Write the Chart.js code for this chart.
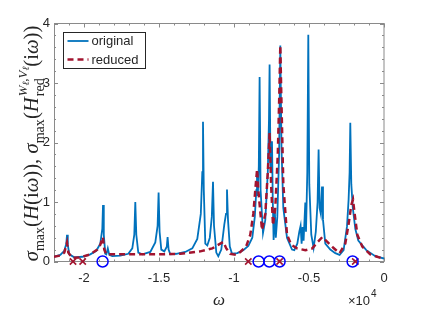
<!DOCTYPE html>
<html><head><meta charset="utf-8">
<script src="https://cdn.jsdelivr.net/npm/chart.js@4.4.0/dist/chart.umd.min.js"></script>
<style>html,body{margin:0;padding:0;background:#fff;} canvas{display:block;}</style>
</head><body>
<canvas id="c" width="424" height="318"></canvas>
<script>
// original transfer function sigma_max vs omega
const origW = [-22000,-21580,-21313,-21180,-21133,-21080,-20980,-20647,-20113,-19580,-19180,-18913,-18780,-18733,-18680,-18580,-18513,-18413,-18313,-18113,
 -17580,-17047,-16780,-16647,-16580,-16513,-16380,-16113,-15580,-15247,-15093,-15027,-14960,-14847,-14647,-14480,-14427,-14360,-14247,-13847,
 -13247,-12780,-12447,-12213,-12113,-12067,-12013,-11913,-11780,-11613,-11480,-11400,-11333,-11180,-11047,-10847,-10647,-10533,-10467,-10400,
 -10280,-10133,-9780,-9380,-9047,-8780,-8613,-8513,-8467,-8413,-8347,-8293,-8227,-8067,-7913,-7747,-7667,-7627,-7567,-7513,
 -7467,-7413,-7360,-7280,-7213,-7113,-6993,-6913,-6833,-6713,-6467,-6133,-5980,-5780,-5647,-5560,-5493,-5427,-5360,-5247,
 -5200,-5113,-5047,-4980,-4847,-4693,-4547,-4427,-4360,-4293,-4213,-4133,-4067,-3913,-3580,-3247,-2960,-2693,-2467,-2360,
 -2293,-2247,-2180,-2080,-1913,-1713,-1180,-580,0];
const origS = [0.08,0.11,0.18,0.30,0.45,0.28,0.12,0.07,0.08,0.12,0.18,0.30,0.55,0.95,0.45,0.13,0.12,0.22,0.11,0.09,
 0.10,0.13,0.22,0.45,1.00,0.45,0.15,0.12,0.16,0.32,0.60,1.16,0.50,0.20,0.17,0.25,0.41,0.20,0.12,0.13,
 0.16,0.22,0.38,0.80,1.50,2.35,1.20,0.30,0.27,0.40,0.75,1.34,0.60,0.15,0.09,0.20,0.62,0.80,1.21,0.70,
 0.25,0.13,0.14,0.19,0.26,0.40,0.75,1.20,1.43,1.10,1.60,3.10,1.20,0.48,0.70,1.50,2.40,3.31,1.60,1.50,
 2.02,1.00,0.36,0.87,0.40,0.75,1.80,3.63,1.90,0.90,0.40,0.20,0.19,0.30,0.50,0.60,0.30,0.58,0.35,0.99,
 0.50,1.50,3.81,1.30,0.45,0.23,0.50,1.00,1.88,0.90,0.80,1.26,0.70,0.30,0.20,0.14,0.11,0.19,0.59,1.04,
 1.50,2.33,1.30,0.90,0.55,0.35,0.19,0.09,0.05];
// reduced model
const redW = [-22000,-21580,-21313,-21133,-21047,-20780,-20247,-19580,-19113,-18913,-18747,-18647,-18513,-17580,-16247,-14913,-13580,-12247,-11447,-10913,
 -10713,-10513,-10247,-9847,-9580,-9180,-8913,-8713,-8547,-8460,-8380,-8133,-7913,-7747,-7627,-7527,-7400,-7247,-7080,-6980,
 -6913,-6847,-6713,-6467,-6180,-5800,-5247,-4780,-4447,-4113,-3780,-3380,-2960,-2580,-2347,-2180,-2067,-1980,-1780,-1447,
 -913,0];
const redS = [0.08,0.10,0.15,0.32,0.15,0.06,0.07,0.12,0.20,0.28,0.41,0.20,0.12,0.12,0.12,0.12,0.13,0.17,0.22,0.30,
 0.33,0.22,0.13,0.11,0.16,0.26,0.45,0.80,1.30,1.55,1.20,0.53,0.80,1.50,2.16,1.30,0.61,0.90,1.80,2.80,
 3.63,2.80,1.30,0.45,0.28,0.22,0.19,0.22,0.32,0.41,0.33,0.23,0.14,0.30,0.65,0.95,1.04,0.85,0.45,0.25,
 0.12,0.04];
// interpolation points
const crossW = [-20733,-20087,-9047,-6960,-1913];
const circleW = [-18760,-8360,-7647,-6960,-2093];
const xTicks = [-20000,-15000,-10000,-5000,0];
const xTickLabels = ['-2','-1.5','-1','-0.5','0'];
const yTicks = [0,1,2,3,4];
const yTickLabels = ['0','1','2','3','4'];

const BLUE = 'rgb(0,114,189)';
const RED = 'rgb(162,20,47)';
const AXC = '#8a8a8a';
const TXT = '#262626';

const pts = (xs, ys) => xs.map((x,i)=>({x:x, y:ys[i]}));

const axesPlugin = {
  id:'axesPlugin',
  beforeDatasetsDraw(chart){
    const {ctx, chartArea:a, scales:{x, y}} = chart;
    ctx.save();
    ctx.strokeStyle = AXC; ctx.lineWidth = 1;
    ctx.strokeRect(a.left+0.5, a.top, a.right-a.left-0.5, a.bottom-a.top);
    ctx.beginPath();
    for (let v = -22000; v <= 0; v += 1000) {
      const px = Math.round(x.getPixelForValue(v))+0.5;
      const L = (v % 5000 === 0) ? 4 : 2;
      ctx.moveTo(px, a.bottom); ctx.lineTo(px, a.bottom-L);
      ctx.moveTo(px, a.top); ctx.lineTo(px, a.top+L);
    }
    for (let k = 0; k <= 20; k++) {
      const v = k*0.2;
      const py = Math.round(y.getPixelForValue(v))+0.5;
      const L = (k % 5 === 0) ? 4 : 2;
      ctx.moveTo(a.left, py); ctx.lineTo(a.left+L, py);
      ctx.moveTo(a.right, py); ctx.lineTo(a.right-L, py);
    }
    ctx.stroke();
    ctx.restore();
  },
  afterDraw(chart){
    const {ctx, chartArea:a} = chart;
    ctx.save();
    // legend
    const lx = 63.5, ly = 32.5, lw = 82, lh = 36;
    ctx.fillStyle = '#fff'; ctx.fillRect(lx, ly, lw, lh);
    ctx.strokeStyle = TXT; ctx.lineWidth = 1; ctx.strokeRect(lx, ly, lw, lh);
    const ds = chart.data.datasets;
    const rows = [ds.find(d=>d.label==='original'), ds.find(d=>d.label==='reduced')];
    rows.forEach((d, i) => {
      const yy = ly + 8.5 + i*18.5;
      ctx.beginPath();
      ctx.strokeStyle = d.borderColor; ctx.lineWidth = d.borderWidth;
      ctx.setLineDash(d.borderDash || []);
      ctx.moveTo(lx+4, yy); ctx.lineTo(lx+25, yy); ctx.stroke();
      ctx.setLineDash([]);
      ctx.fillStyle = TXT; ctx.font = '13px "Liberation Sans", Arial, sans-serif';
      ctx.textBaseline = 'middle'; ctx.textAlign = 'left';
      ctx.fillText(d.label, lx+28, yy+0.5);
    });
    // x label
    ctx.textBaseline = 'alphabetic';
    ctx.font = 'italic 17px "Liberation Serif", serif';
    ctx.textAlign = 'center';
    ctx.fillText('ω', (a.left+a.right)/2, 305);
    // exponent
    ctx.textAlign = 'left';
    ctx.font = '13px "Liberation Sans", Arial, sans-serif';
    ctx.fillText('×10', 348, 305);
    const w10 = ctx.measureText('×10').width;
    ctx.font = '10px "Liberation Sans", Arial, sans-serif';
    ctx.fillText('4', 348 + w10 + 1, 297);
    // y label (math)
    drawYLabel(ctx, 38, (a.top + a.bottom)/2 + 1, 236);
    ctx.restore();
  }
};

function drawYLabel(ctx, bx, cy, targetLen){
  const F = (s, it) => `${it?'italic ':''}${s}px "Liberation Serif", "DejaVu Serif", serif`;
  const build = (B) => {
    const R = (t)=>({t, f:F(B,false), dy:0});
    const I = (t)=>({t, f:F(B,true), dy:0});
    const S = (t)=>({t, f:F(0.68*B,false), dy:0.28*B});
    const SupI = (t)=>({t, f:F(0.62*B,true), dy:-0.55*B});
    const SupS = (t)=>({t, f:F(0.45*B,true), dy:-0.43*B});
    const SupR = (t)=>({t, f:F(0.62*B,false), dy:-0.55*B});
    return [
      I('σ'), S('max'), R('('), I('H'), R('('), R('i'), I('ω'), R(')'), R(')'), R(', '),
      I('σ'), S('max'), R('('), I('H'),
      {stack:[[SupI('W'), SupS('ℓ'), SupR(','), SupI('V'), SupS('ℓ')], [S('red')]]},
      R('('), R('i'), I('ω'), R(')'), R(')')
    ];
  };
  const runW = (run) => run.reduce((s, p) => { ctx.font = p.f; return s + ctx.measureText(p.t).width; }, 0);
  const totalW = (items) => items.reduce((s, it) => s + (it.stack ? Math.max(...it.stack.map(runW)) + 1 : runW([it])), 0);
  let B = 18;
  let items = build(B);
  B = B * targetLen / totalW(items);
  items = build(B);
  const tw = totalW(items);
  ctx.save();
  ctx.translate(bx, cy);
  ctx.rotate(-Math.PI/2);
  ctx.fillStyle = TXT; ctx.textAlign = 'left'; ctx.textBaseline = 'alphabetic';
  let x = -tw/2;
  const drawRun = (run, x0) => { let xx = x0; run.forEach(p => { ctx.font = p.f; ctx.fillText(p.t, xx, p.dy); xx += ctx.measureText(p.t).width; }); return xx - x0; };
  items.forEach(it => {
    if (it.stack) {
      const ws = it.stack.map(r => drawRun(r, x + 1));
      x += Math.max(...ws) + 1;
    } else {
      x += drawRun([it], x);
    }
  });
  ctx.restore();
}

new Chart(document.getElementById('c'), {
  type: 'line',
  data: {
    datasets: [
      {label:'circles', data: circleW.map(w=>({x:w,y:0})), showLine:false, pointStyle:'circle', pointRadius:5.5,
       pointBorderWidth:1.5, borderColor:'#0000ff', pointBorderColor:'#0000ff', pointBackgroundColor:'rgba(0,0,0,0)', backgroundColor:'rgba(0,0,0,0)', clip:false, order:0},
      {label:'crosses', data: crossW.map(w=>({x:w,y:0})), showLine:false, pointStyle:'crossRot', pointRadius:4.5,
       pointBorderWidth:1.6, borderColor:RED, pointBorderColor:RED, clip:false, order:1},
      {label:'reduced', data: pts(redW, redS), borderColor:RED, borderWidth:2.5, borderDash:[6,4], pointRadius:0, tension:0, fill:false, order:2},
      {label:'original', data: pts(origW, origS), borderColor:BLUE, borderWidth:1.8, pointRadius:0, tension:0, fill:false, order:3}
    ]
  },
  options: {
    responsive:false, animation:false, devicePixelRatio:1,
    layout:{padding:{left:0, top:23.5, right:40, bottom:0}},
    plugins:{legend:{display:false}, tooltip:{enabled:false}},
    scales:{
      x:{type:'linear', min:-22000, max:0,
         afterBuildTicks:(s)=>{ s.ticks = xTicks.map(v=>({value:v})); },
         afterFit:(s)=>{ s.height = 56.5; },
         grid:{display:false, drawTicks:false}, border:{display:false},
         ticks:{padding:9, color:TXT, font:{family:'"Liberation Sans", Arial, sans-serif', size:13},
                callback:(v)=>xTickLabels[xTicks.indexOf(v)], maxRotation:0, autoSkip:false}},
      y:{type:'linear', min:0, max:4,
         afterBuildTicks:(s)=>{ s.ticks = yTicks.map(v=>({value:v})); },
         afterFit:(s)=>{ s.width = 54; },
         grid:{display:false, drawTicks:false}, border:{display:false},
         ticks:{padding:4, color:TXT, font:{family:'"Liberation Sans", Arial, sans-serif', size:13},
                callback:(v)=>yTickLabels[yTicks.indexOf(v)], autoSkip:false}}
    }
  },
  plugins:[axesPlugin]
});
</script>
</body></html>
